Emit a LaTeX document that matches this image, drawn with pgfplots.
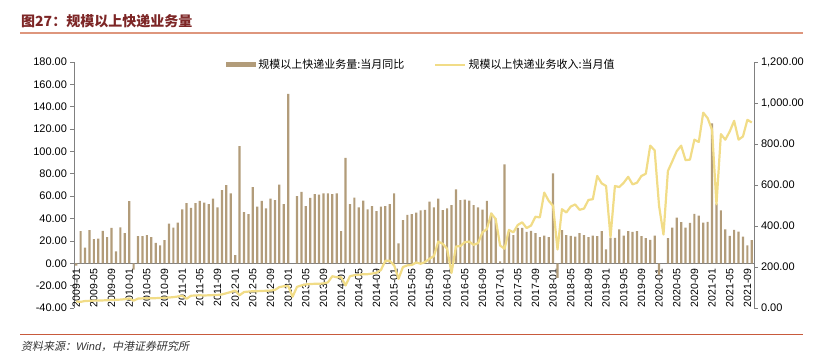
\documentclass[border=0pt]{standalone}
\usepackage{fontspec}
\setmainfont{Liberation Sans}
\newfontfamily\cjk{Noto Sans CJK SC}
\newfontfamily\cjkit[FakeSlant=0.2]{Noto Sans CJK SC}
\usepackage{pgfplots}
\usepackage{pgfplotstable}
\pgfplotsset{compat=1.18}
\definecolor{barc}{RGB}{178,156,122}
\definecolor{linec}{RGB}{241,220,135}
\definecolor{titlec}{RGB}{125,38,38}
\definecolor{rulet}{RGB}{222,150,125}
\definecolor{ruleb}{RGB}{200,90,60}
\definecolor{axc}{RGB}{128,128,128}

\pgfplotstableread{
i v
0 -2
1 28.7
2 14.0
3 29.6
4 21.5
5 22.1
6 29.0
7 23.3
8 31.6
9 10.7
10 32.2
11 26.9
12 55.5
13 -5.7
14 24.2
15 24.2
16 25.1
17 23.3
18 18.2
19 16.1
20 20.6
21 35.5
22 31.9
23 36.4
24 48.1
25 53.7
26 49.6
27 53.7
28 55.8
29 54.3
30 52.8
31 57.9
32 50.1
33 65.4
34 69.9
35 62.4
36 7.2
37 104.8
38 45.7
39 43.9
40 68.1
41 50.7
42 55.8
43 49.0
44 57.9
45 56.4
46 70.4
47 52.8
48 151.5
50 60.0
51 63.9
52 51.0
53 58.5
54 61.8
55 61.5
56 62.4
57 62.4
58 61.8
59 62.4
60 28.7
61 94.3
62 52.8
63 58.8
64 50.1
65 56.1
66 48.1
67 51.0
68 46.6
69 50.7
70 51.0
71 52.8
72 62.4
73 17.9
74 38.5
75 43.3
76 43.9
77 45.4
78 47.2
79 47.8
80 55.2
81 50.1
82 57.9
83 47.5
84 49.0
85 51.9
86 66.0
87 56.4
88 57.0
89 56.1
90 51.9
91 49.9
92 48.0
93 55.8
94 45.0
95 40.0
96 1.8
97 88.4
98 28.0
99 25.1
100 31.6
101 31.6
102 28.1
103 29.0
104 26.9
105 23.3
106 24.8
107 23.3
108 80.3
109 -13.0
110 29.6
111 25.1
112 24.5
113 23.9
114 26.9
115 25.1
116 23.3
117 24.8
118 24.2
119 28.7
120 12.5
121 22.7
122 22.7
123 30.4
124 24.8
125 28.7
126 28.1
127 28.7
128 24.2
129 22.4
130 20.9
131 24.8
132 -10.5
134 22.4
135 31.9
136 40.9
137 36.7
138 31.9
139 36.1
140 44.2
141 42.7
142 36.4
143 37.0
144 125.1
145 53.4
146 47.2
147 30.4
148 24.5
149 29.9
150 28.4
151 23.9
152 16.1
153 20.6
}\bars

\pgfplotstableread{
i r
0 32
1 30
2 34
3 35
4 36
5 37
6 37
7 38
8 39
9 40
10 41
11 43
12 47
13 36
14 46
15 47
16 48
17 48
18 48
19 49
20 50
21 51
22 53
23 56
24 60
25 45
26 60
27 61
28 62
29 61
30 62
31 63
32 64
33 66
34 72
35 78
36 85
37 62
38 78
39 80
40 82
41 82
42 83
43 84
44 85
45 88
46 102
47 106
48 108
49 55
50 103
51 110
52 115
53 117
54 118
55 118
56 120
57 125
58 155
59 150
60 150
61 110
62 155
63 160
64 162
65 165
66 165
67 168
68 172
69 185
70 230
71 230
72 208
73 143
74 200
75 208
76 210
77 222
78 216
79 224
80 240
81 253
82 324
83 313
84 289
85 171
86 300
87 302
88 321
89 324
90 308
91 316
92 369
93 385
94 461
95 434
96 305
97 289
98 381
99 369
100 405
101 418
102 390
103 402
104 445
105 442
106 563
107 523
108 498
109 285
110 482
111 466
112 495
113 505
114 479
115 485
116 527
117 531
118 644
119 608
120 595
121 345
122 595
123 590
124 611
125 640
126 603
127 611
128 644
129 655
130 792
131 769
132 498
133 358
134 668
135 716
136 765
137 792
138 721
139 724
140 821
141 810
142 953
143 926
144 869
145 506
146 848
147 821
148 861
149 913
150 821
151 837
152 918
153 905
}\rev

\begin{document}
\begin{tikzpicture}
\useasboundingbox (0,0) rectangle (821bp,355bp);
\node[anchor=west, text=titlec, font=\fontsize{14bp}{16bp}\selectfont\cjk\bfseries, inner sep=0pt] at (21bp,334bp) {图27：规模以上快递业务量};
\draw[rulet, line width=1.2bp] (20bp,322bp) -- (803bp,322bp);
\draw[ruleb, line width=1bp] (20bp,20bp) -- (803bp,20bp);
\node[anchor=west, font=\fontsize{11bp}{13bp}\selectfont\cjkit, text=black!80, inner sep=0pt] at (21bp,9bp) {资料来源：{\rmfamily\itshape Wind}，中港证券研究所};

\begin{axis}[
  at={(74bp,47bp)}, anchor=south west,
  width=680bp, height=246bp, scale only axis,
  xmin=-0.5, xmax=153.5, ymin=-40, ymax=180,
  axis x line*=middle, axis y line*=left,
  hide obscured x ticks=false, hide obscured y ticks=false,
  axis line style={draw=axc, line width=1bp},
  xtick={0,4,...,152},
  xticklabels={2009-01,2009-05,2009-09,2010-01,2010-05,2010-09,2011-01,2011-05,2011-09,2012-01,2012-05,2012-09,2013-01,2013-05,2013-09,2014-01,2014-05,2014-09,2015-01,2015-05,2015-09,2016-01,2016-05,2016-09,2017-01,2017-05,2017-09,2018-01,2018-05,2018-09,2019-01,2019-05,2019-09,2020-01,2020-05,2020-09,2021-01,2021-05,2021-09},
  xtick style={draw=none},
  xticklabel style={rotate=90, anchor=east, font=\fontsize{10.5bp}{12bp}\selectfont, inner sep=1.5bp},
  ytick={-40,-20,...,180},
  ytick style={draw=axc, line width=0.8bp},
  tick align=outside, major tick length=3.5bp,
  yticklabel style={font=\fontsize{11bp}{13bp}\selectfont, /pgf/number format/.cd, fixed, fixed zerofill, precision=2, assume math mode=true},
  legend columns=2,
  legend style={at={(0.511,0.988)}, anchor=center, draw=none, fill=none,
    font=\fontsize{11bp}{13bp}\selectfont\cjk,
    /tikz/every even column/.append style={column sep=28bp}},
]
\addplot[ybar, bar width=2.2bp, fill=barc, draw=none,
  legend image code/.code={\fill[barc] (0bp,-2.5bp) rectangle (30bp,2.5bp);}]
  table[x=i, y=v]{\bars};
\addlegendentry{规模以上快递业务量:当月同比}
\addlegendimage{legend image code/.code={\draw[linec, line width=2.2bp] (0bp,0bp) -- (30bp,0bp);}}
\addlegendentry{规模以上快递业务收入:当月值}
\end{axis}

\begin{axis}[
  at={(74bp,47bp)}, anchor=south west,
  width=680bp, height=246bp, scale only axis,
  xmin=-0.5, xmax=153.5, ymin=0, ymax=1200,
  axis x line=none, axis y line*=right,
  axis line style={draw=axc, line width=1bp},
  ytick={0,200,...,1200},
  ytick style={draw=axc, line width=0.8bp},
  tick align=outside, major tick length=3.5bp,
  yticklabel style={font=\fontsize{11bp}{13bp}\selectfont, /pgf/number format/.cd, fixed, fixed zerofill, precision=2, 1000 sep={,}, assume math mode=true},
]
\addplot[linec, line width=2.2bp, line join=round, no markers] table[x=i, y=r]{\rev};
\end{axis}
\end{tikzpicture}
\end{document}
